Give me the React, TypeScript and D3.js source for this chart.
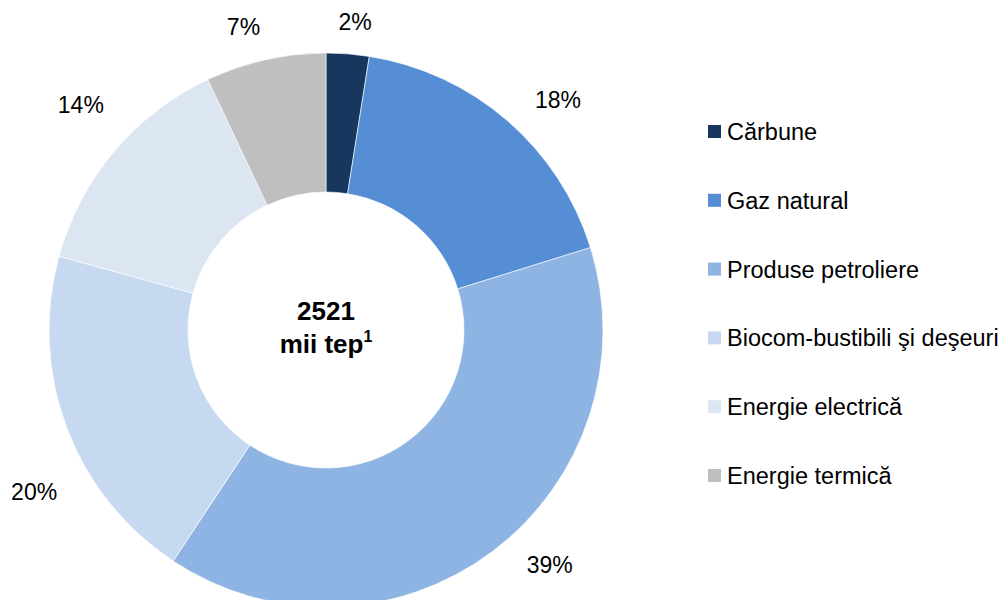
import React, { useMemo } from "react";
import * as d3 from "d3";

const categories = [
  "Cărbune",
  "Gaz natural",
  "Produse petroliere",
  "Biocom-bustibili şi deşeuri",
  "Energie electrică",
  "Energie termică",
];
// mii tep
const values = [63, 446, 986, 504, 345, 177];
const colors = ["#17375E", "#558ED5", "#8EB4E3", "#C6D9F1", "#DCE6F2", "#BFBFBF"];
const totalLabel = "2521";
const unitLabel = "mii tep";
const unitSup = "1";
// small adjustments of the percent labels (angle in degrees, radial gap in px), as placed in the original
const labelNudgeDeg = [0.9, 4.4, -6.7, -8.4, 2.5, -2.6];
const labelNudgeGap = [-5, 0, -2, 5, 6, -3];

const W = 1005;
const H = 600;
const FONT = "'Liberation Sans', Arial, sans-serif";

function measure(text: string, font: string): number {
  const c = document.createElement("canvas");
  const ctx = c.getContext("2d");
  if (!ctx) return text.length * 12;
  ctx.font = font;
  return ctx.measureText(text).width;
}

export default function App() {
  const cx = 326;
  const cy = 330;
  const R = 277;
  const r = 138;
  const labelFs = 23;
  const legendFs = 23.5;

  const total = d3.sum(values);
  const pie = d3
    .pie<number>()
    .sort(null)
    .startAngle(0)
    .endAngle(2 * Math.PI)
    .value((d) => d);
  const arcs = pie(values);
  const arcGen = d3.arc<d3.PieArcDatum<number>>().innerRadius(r).outerRadius(R);

  const labels = useMemo(
    () =>
      arcs.map((a, i) => {
        const txt = `${Math.round((a.data / total) * 100)}%`;
        const w = measure(txt, `${labelFs}px ${FONT}`);
        const h = labelFs * 0.78;
        const ang = (a.startAngle + a.endAngle) / 2 + (labelNudgeDeg[i] * Math.PI) / 180;
        const s = Math.sin(ang);
        const c = -Math.cos(ang);
        const g = 27 + labelNudgeGap[i];
        const extra = Math.abs((w / 2) * s) + Math.abs((h / 2) * c);
        const rr = R + g + extra;
        return { txt, x: rr * s, y: rr * c };
      }),
    [total]
  );

  const legendX = 708;
  const legendY0 = 131.5;
  const legendStep = 68.8;
  const sq = 13;

  return (
    <svg
      width={W}
      height={H}
      style={{ position: "absolute", left: 0, top: 0, background: "#fff" }}
      fontFamily={FONT}
    >
      <g transform={`translate(${cx},${cy})`}>
        {arcs.map((a, i) => (
          <path key={i} d={arcGen(a) || ""} fill={colors[i]} stroke="#fff" strokeWidth={0.6} />
        ))}
        {labels.map((l, i) => (
          <text
            key={i}
            x={l.x}
            y={l.y + labelFs * 0.358}
            textAnchor="middle"
            fontSize={labelFs}
            fill="#000"
          >
            {l.txt}
          </text>
        ))}
        <text x={0} y={-10} textAnchor="middle" fontSize={26} fontWeight="bold" fill="#000">
          {totalLabel}
        </text>
        <text x={0} y={23} textAnchor="middle" fontSize={26} fontWeight="bold" fill="#000">
          {unitLabel}
          <tspan fontSize={16} dy={-11}>
            {unitSup}
          </tspan>
        </text>
      </g>
      <g>
        {categories.map((c, i) => {
          const y = legendY0 + i * legendStep;
          return (
            <g key={c}>
              <rect x={legendX} y={y - sq / 2} width={sq} height={sq} fill={colors[i]} />
              <text x={legendX + 19} y={y + legendFs * 0.358} fontSize={legendFs} fill="#000">
                {c}
              </text>
            </g>
          );
        })}
      </g>
    </svg>
  );
}
